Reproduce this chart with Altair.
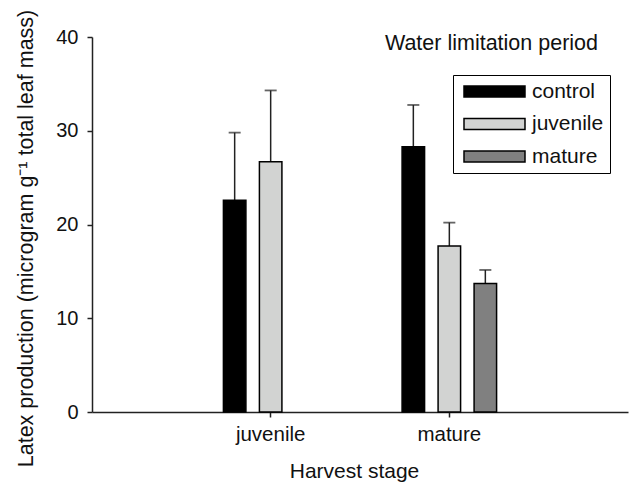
import altair as alt
import pandas as pd

stages = ["juvenile", "juvenile", "mature", "mature", "mature"]
periods = ["control", "juvenile", "control", "juvenile", "mature"]
means = [22.6, 26.7, 28.3, 17.7, 13.7]
uppers = [29.8, 34.3, 32.75, 20.2, 15.15]

stage_order = ["juvenile", "mature"]
period_order = ["control", "juvenile", "mature"]
period_colors = ["#000000", "#d2d3d2", "#808080"]

df = pd.DataFrame({"stage": stages, "period": periods, "mean": means, "upper": uppers})

FONT = "Liberation Sans"

x = alt.X("stage:N", sort=stage_order, title="Harvest stage",
          scale=alt.Scale(domain=stage_order, paddingInner=0.0681, paddingOuter=0.534),
          axis=alt.Axis(labelAngle=0, labelFontSize=20.5, titleFontSize=21,
                        titleFontWeight="normal", labelPadding=7, tickSize=5,
                        titleX=262, titleY=65, titleBaseline="alphabetic",
                        titleAnchor="start", titleAlign="center"))
xo = alt.XOffset("period:N", sort=period_order,
                 scale=alt.Scale(domain=period_order, paddingInner=0.375, paddingOuter=1))

base = alt.Chart(df)

err = base.mark_rule(color="#222222", strokeWidth=1.5).encode(
    x=x, xOffset=xo,
    y=alt.Y("mean:Q"), y2="upper:Q")

cap = base.mark_tick(color="#222222", thickness=1.8, size=12, orient="horizontal").encode(
    x=x, xOffset=xo, y="upper:Q")

bars = base.mark_bar(stroke="black", strokeWidth=1.5, opacity=1).encode(
    x=x, xOffset=xo,
    y=alt.Y("mean:Q", title="Latex production (microgram g\u207b\u00b9 total leaf mass)",
            scale=alt.Scale(domain=[0, 40], nice=False),
            axis=alt.Axis(values=[0, 10, 20, 30, 40], labelFontSize=20, titleFontSize=21.5,
                          titleFontWeight="normal", tickSize=5, labelPadding=9,
                          titleX=-60, titleY=201, titleBaseline="alphabetic",
                          titleAnchor="start", titleAlign="center", titleAngle=-90)),
    color=alt.Color("period:N", sort=period_order, title=None,
                    scale=alt.Scale(domain=period_order, range=period_colors),
                    legend=alt.Legend(orient="none", legendX=361, legendY=38,
                                      direction="vertical",
                                      symbolType="M-1,-1L10.09,-1L10.09,1L-1,1Z",
                                      symbolSize=121, symbolStrokeColor="black",
                                      symbolStrokeWidth=1.5, symbolOpacity=1,
                                      labelFontSize=21, labelOffset=52, rowPadding=10.5,
                                      labelExpr="datum.label + '\u00a0\u00a0'",
                                      padding=6, strokeColor="black", cornerRadius=0,
                                      fillColor="white")),
)

title_df = pd.DataFrame({"t": ["Water limitation period"]})
title_text = alt.Chart(title_df).mark_text(
    align="right", baseline="alphabetic", fontSize=21.5, font=FONT, color="#111111"
).encode(text="t:N", x=alt.value(506), y=alt.value(12.5))

chart = alt.layer(err, cap, bars, title_text).properties(
    width=536, height=375,
    autosize=alt.AutoSizeParams(type="none"),
    padding={"left": 92, "top": 37, "right": 1, "bottom": 70},
).configure_view(stroke=None).configure_axis(
    grid=False, domainColor="#222222", domainWidth=1.5, tickColor="#222222",
    tickWidth=1.5, labelColor="#111111", titleColor="#111111",
    labelFont=FONT, titleFont=FONT
).configure_legend(labelFont=FONT, labelColor="#111111").configure_text(font=FONT)

chart.save("out.html", embed_options={"renderer": "svg", "actions": False})
